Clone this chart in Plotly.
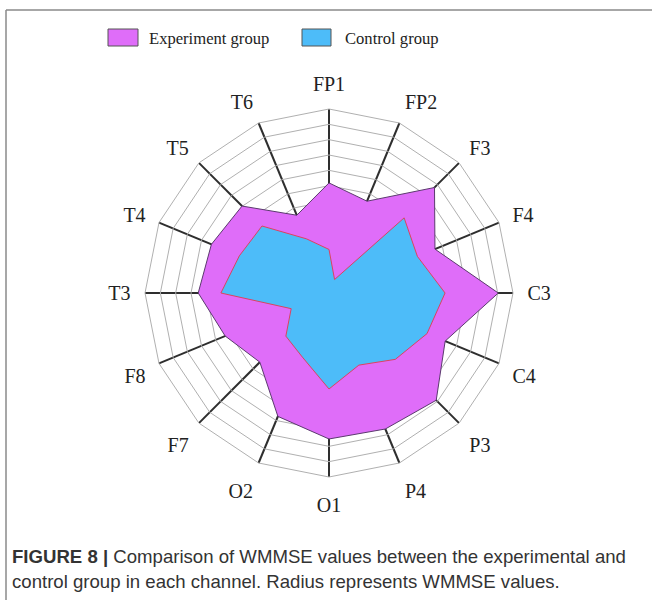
import plotly.graph_objects as go

channels = ["FP1", "FP2", "F3", "F4", "C3", "C4", "P3", "P4",
            "O1", "O2", "F7", "F8", "T3", "T4", "T5", "T6"]
experiment = [7.18, 6.48, 9.73, 7.48, 11.04, 8.2, 9.89, 9.6,
              9.52, 8.71, 6.38, 7.33, 8.53, 8.3, 8.02, 5.49]
control = [2.84, 0.95, 6.93, 6.24, 7.57, 6.92, 6.12, 5.09,
           6.26, 4.53, 3.98, 2.67, 7.05, 6.33, 6.18, 3.82]
series_names = ["Experiment group", "Control group"]
fill_colors = ["#DF6DF9", "#4DBCF9"]
edge_colors = ["#5B3A6E", "#D9455F"]
radial_max = 12

fig = go.Figure()
for name, vals, fc, ec in zip(series_names, [experiment, control],
                              fill_colors, edge_colors):
    fig.add_trace(go.Scatterpolar(
        r=vals + vals[:1], theta=channels + channels[:1],
        name=name, mode="lines", fill="toself", showlegend=False,
        fillcolor=fc, line=dict(color=ec, width=1)))

cx, cy, R = 329, 293, 184
W, H = 652, 600
fig.update_layout(
    width=W, height=H,
    margin=dict(l=0, r=0, t=0, b=0),
    paper_bgcolor="white", plot_bgcolor="white",
    font=dict(family="Liberation Serif", size=18, color="#222"),
    polar=dict(
        domain=dict(x=[(cx - R) / W, (cx + R) / W],
                    y=[1 - (cy + R) / H, 1 - (cy - R) / H]),
        bgcolor="white",
        gridshape="linear",
        radialaxis=dict(range=[0, radial_max], dtick=1, showticklabels=False,
                        ticks="", showline=False, gridcolor="#B0B0B0",
                        gridwidth=1),
        angularaxis=dict(direction="clockwise", rotation=90,
                         categoryorder="array", categoryarray=channels,
                         gridcolor="#2E2E2E", gridwidth=1.5,
                         linecolor="#B0B0B0", linewidth=1,
                         ticks="outside", ticklen=10,
                         tickcolor="rgba(0,0,0,0)",
                         tickfont=dict(family="Liberation Serif", size=20,
                                       color="#222")),
    ),
    showlegend=False,
)

# manual legend (boxes + text)
legend_boxes = [(108, 138), (302, 331)]
legend_text_x = [147, 343]
for (x0, x1), tx, name, fc in zip(legend_boxes, legend_text_x,
                                  series_names, fill_colors):
    fig.add_shape(type="rect", xref="paper", yref="paper",
                  x0=x0 / W, x1=x1 / W, y0=1 - 46 / H, y1=1 - 29 / H,
                  fillcolor=fc, line=dict(color="#555", width=1))
    fig.add_annotation(xref="paper", yref="paper", x=tx / W, y=1 - 38 / H,
                       xanchor="left", yanchor="middle", showarrow=False,
                       text=name,
                       font=dict(family="Liberation Serif", size=16.6,
                                 color="#222"))

# figure frame
fig.add_shape(type="line", xref="paper", yref="paper",
              x0=6 / W, y0=0, x1=6 / W, y1=1 - 10 / H,
              line=dict(color="#8A8A8A", width=1.5))
fig.add_shape(type="line", xref="paper", yref="paper",
              x0=6 / W, y0=1 - 10 / H, x1=1, y1=1 - 10 / H,
              line=dict(color="#8A8A8A", width=1.5))

fig.add_annotation(
    xref="paper", yref="paper", x=10 / W, y=1 - 556 / H,
    xanchor="left", yanchor="middle", showarrow=False, align="left",
    text="<b>FIGURE 8 |</b> Comparison of WMMSE values between the experimental and",
    font=dict(family="Liberation Sans", size=18.6, color="#333"))
fig.add_annotation(
    xref="paper", yref="paper", x=10 / W, y=1 - 581 / H,
    xanchor="left", yanchor="middle", showarrow=False, align="left",
    text="control group in each channel. Radius represents WMMSE values.",
    font=dict(family="Liberation Sans", size=18.6, color="#333"))

fig.write_html("out.html",
               config={"displayModeBar": False},
               post_script="document.body.style.margin='0';"
                           "document.body.style.overflow='hidden';")
